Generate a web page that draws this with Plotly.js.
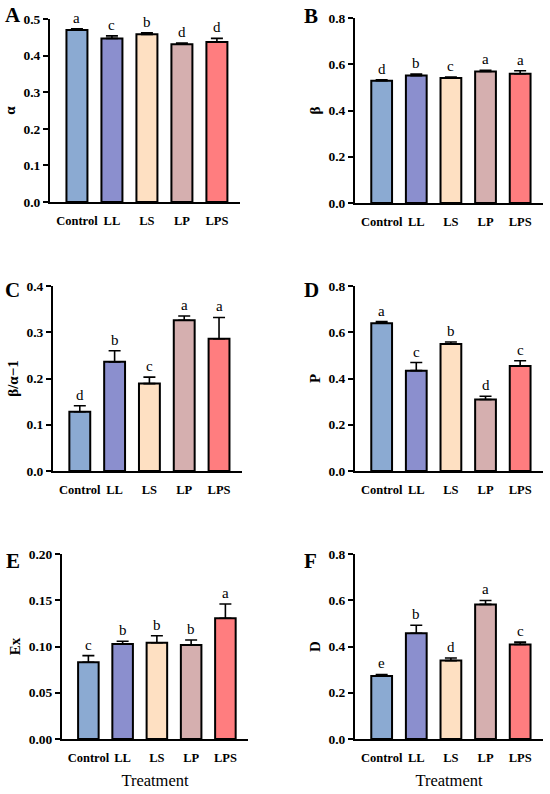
<!DOCTYPE html>
<html>
<head>
<meta charset="utf-8">
<script src="https://cdn.plot.ly/plotly-3.0.1.min.js"></script>
<style>html,body{margin:0;padding:0;background:#fff}#chart{width:550px;height:794px}</style>
</head>
<body>
<div id="chart"></div>
<script>
const categories = ['Control', 'LL', 'LS', 'LP', 'LPS'];
const barColors = ['#8BAAD2', '#8B8FCE', '#FEE0C2', '#D5AFAF', '#FF7D7F'];

const alphaMean = [0.470, 0.447, 0.458, 0.431, 0.437];
const alphaErr  = [0.003, 0.007, 0.004, 0.003, 0.010];
const alphaSig  = ['a', 'c', 'b', 'd', 'd'];

const betaMean = [0.529, 0.551, 0.541, 0.569, 0.559];
const betaErr  = [0.004, 0.007, 0.004, 0.005, 0.013];
const betaSig  = ['d', 'b', 'c', 'a', 'a'];

const ratioMean = [0.128, 0.236, 0.189, 0.326, 0.286];
const ratioErr  = [0.013, 0.024, 0.014, 0.009, 0.046];
const ratioSig  = ['d', 'b', 'c', 'a', 'a'];

const pMean = [0.639, 0.434, 0.549, 0.309, 0.454];
const pErr  = [0.007, 0.035, 0.009, 0.014, 0.023];
const pSig  = ['a', 'c', 'b', 'd', 'c'];

const exMean = [0.0829, 0.1027, 0.1041, 0.1016, 0.1305];
const exErr  = [0.0072, 0.0029, 0.0076, 0.0054, 0.0155];
const exSig  = ['c', 'b', 'b', 'b', 'a'];

const dMean = [0.272, 0.457, 0.339, 0.582, 0.409];
const dErr  = [0.007, 0.035, 0.011, 0.017, 0.010];
const dSig  = ['e', 'b', 'd', 'a', 'c'];

const panels = [
  {label: 'A', title: 'α', mean: alphaMean, err: alphaErr, sig: alphaSig, max: 0.5, dtick: 0.1, fmt: '.1f',
   xd: [50, 240], yd: [19, 202], lx: 3, ly: 15},
  {label: 'B', title: 'β', mean: betaMean, err: betaErr, sig: betaSig, max: 0.8, dtick: 0.2, fmt: '.1f',
   xd: [355, 543], yd: [18, 203], lx: 302, ly: 16},
  {label: 'C', title: 'β/α−1', mean: ratioMean, err: ratioErr, sig: ratioSig, max: 0.4, dtick: 0.1, fmt: '.1f',
   xd: [53, 242], yd: [286, 471], lx: 3, ly: 290},
  {label: 'D', title: 'P', mean: pMean, err: pErr, sig: pSig, max: 0.8, dtick: 0.2, fmt: '.1f',
   xd: [355, 543], yd: [286, 471], lx: 302, ly: 290},
  {label: 'E', title: 'Ex', mean: exMean, err: exErr, sig: exSig, max: 0.2, dtick: 0.05, fmt: '.2f',
   xd: [62, 248], yd: [554, 739], lx: 4, ly: 561, xtitle: 'Treatment'},
  {label: 'F', title: 'D', mean: dMean, err: dErr, sig: dSig, max: 0.8, dtick: 0.2, fmt: '.1f',
   xd: [355, 543], yd: [554, 739], lx: 302, ly: 561, xtitle: 'Treatment'}
];

const W = 550, H = 794;
const serif = 'Liberation Serif, Times New Roman, serif';
const data = [];
const annotations = [];
const layout = {
  width: W, height: H,
  margin: {l: 0, r: 0, t: 0, b: 0},
  paper_bgcolor: '#fff', plot_bgcolor: '#fff',
  showlegend: false,
  font: {family: serif, color: '#000'},
  annotations: annotations
};

panels.forEach((p, i) => {
  const n = i + 1;
  const xa = n === 1 ? 'x' : 'x' + n;
  const ya = n === 1 ? 'y' : 'y' + n;
  data.push({
    type: 'bar', x: categories, y: p.mean, xaxis: xa, yaxis: ya,
    width: 0.6,
    marker: {color: barColors, line: {color: '#000', width: 2}},
    error_y: {type: 'data', symmetric: false, array: p.err, arrayminus: p.err.map(() => 0),
              color: '#000', thickness: 1.6, width: 6},
    hoverinfo: 'x+y'
  });
  layout['xaxis' + (n === 1 ? '' : n)] = {
    domain: [p.xd[0] / W, p.xd[1] / W],
    anchor: ya,
    range: [-0.77, 4.66],
    showline: true, linecolor: '#000', linewidth: 2,
    ticks: '', showgrid: false, zeroline: false,
    tickfont: {family: serif, size: 12.5, color: '#000', weight: 'bold'},
    ticklabelstandoff: 6,
    title: p.xtitle ? {text: p.xtitle, font: {family: serif, size: 16.5, color: '#000'}, standoff: 10} : {text: ''},
    fixedrange: true
  };
  layout['yaxis' + (n === 1 ? '' : n)] = {
    domain: [1 - p.yd[1] / H, 1 - p.yd[0] / H],
    anchor: xa,
    range: [0, p.max],
    dtick: p.dtick, tick0: 0, tickformat: p.fmt,
    showline: true, linecolor: '#000', linewidth: 2,
    ticks: 'outside', ticklen: 5, tickwidth: 2, tickcolor: '#000',
    showgrid: false, zeroline: false,
    tickfont: {family: serif, size: 13.5, color: '#000', weight: 'bold'},
    title: {text: p.title, font: {family: serif, size: 15, color: '#000', weight: 'bold'}, standoff: 4},
    fixedrange: true
  };
  p.sig.forEach((s, k) => {
    annotations.push({
      xref: xa, yref: ya, x: categories[k], y: p.mean[k] + p.err[k],
      text: s, showarrow: false, yanchor: 'bottom', yshift: 1,
      font: {family: serif, size: 15, color: '#000'}
    });
  });
  annotations.push({
    xref: 'paper', yref: 'paper', x: p.lx / W, y: 1 - p.ly / H,
    text: p.label, showarrow: false, xanchor: 'left', yanchor: 'middle',
    font: {family: serif, size: 21, color: '#000', weight: 'bold'}
  });
});

Plotly.newPlot('chart', data, layout, {staticPlot: true, displayModeBar: false});
</script>
</body>
</html>
